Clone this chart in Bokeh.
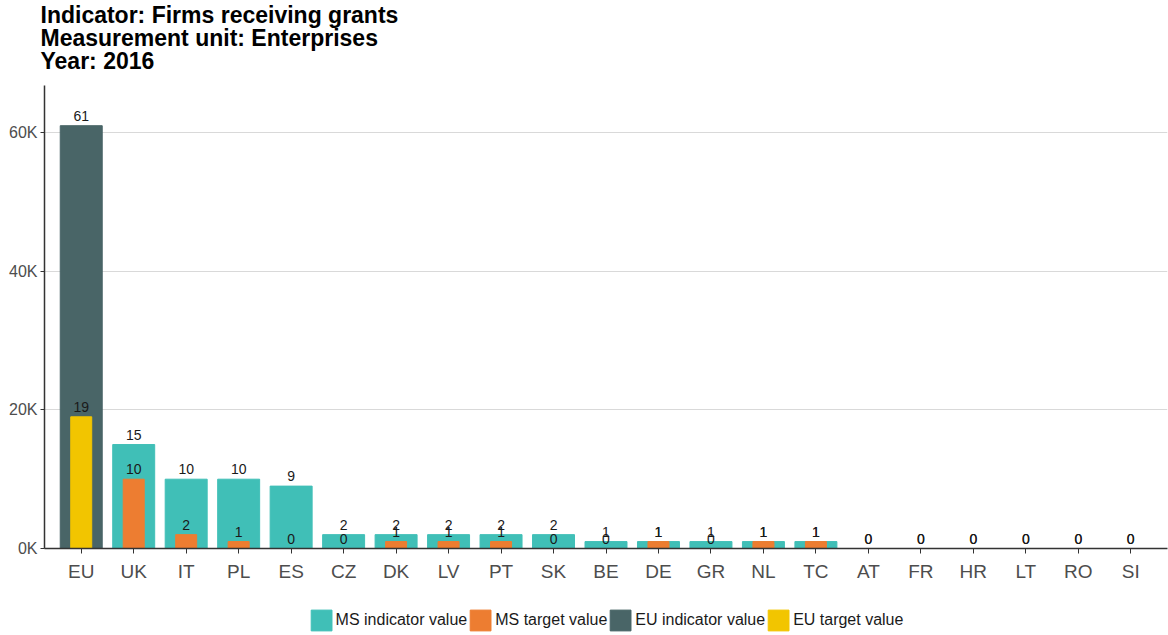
from bokeh.plotting import figure
from bokeh.layouts import column
from bokeh.models import (ColumnDataSource, FactorRange, Range1d, FixedTicker,
                          Legend, LegendItem, Title)
from bokeh.core.properties import value
from bokeh.embed import file_html
from bokeh.resources import INLINE

# ---- data (values in thousands of enterprises) ----
countries = ["EU", "UK", "IT", "PL", "ES", "CZ", "DK", "LV", "PT", "SK", "BE",
             "DE", "GR", "NL", "TC", "AT", "FR", "HR", "LT", "RO", "SI"]
indicator = [61, 15, 10, 10, 9, 2, 2, 2, 2, 2, 1, 1, 1, 1, 1, 0, 0, 0, 0, 0, 0]
target = [19, 10, 2, 1, 0, 0, 1, 1, 1, 0, 0, 1, 0, 1, 1, 0, 0, 0, 0, 0, 0]
y_ticks = [0, 20, 40, 60]
y_tick_labels = ["0K", "20K", "40K", "60K"]
title_lines = ["Indicator: Firms receiving grants",
               "Measurement unit: Enterprises",
               "Year: 2016"]
legend_labels = ["MS indicator value", "MS target value",
                 "EU indicator value", "EU target value"]

C_MS_IND = "#40BFB7"
C_MS_TGT = "#ED7D31"
C_EU_IND = "#496567"
C_EU_TGT = "#F2C500"
legend_colors = [C_MS_IND, C_MS_TGT, C_EU_IND, C_EU_TGT]

FONT = "Liberation Sans"
FRAME_H = 463

eu = [c == "EU" for c in countries]
ms_src = ColumnDataSource(dict(
    x=[c for c, e in zip(countries, eu) if not e],
    ind=[v for v, e in zip(indicator, eu) if not e],
    tgt=[v for v, e in zip(target, eu) if not e]))
eu_src = ColumnDataSource(dict(
    x=[c for c, e in zip(countries, eu) if e],
    ind=[v for v, e in zip(indicator, eu) if e],
    tgt=[v for v, e in zip(target, eu) if e]))
lab_src = ColumnDataSource(dict(
    x=countries, ind=indicator, tgt=target,
    ind_t=[str(v) for v in indicator], tgt_t=[str(v) for v in target]))

p = figure(frame_width=1123, frame_height=FRAME_H, output_backend="svg",
           toolbar_location=None,
           x_range=FactorRange(factors=countries, range_padding=0.2,
                               range_padding_units="absolute"),
           y_range=Range1d(0, 66.8),
           min_border_left=44, min_border_right=1, min_border_top=85,
           min_border_bottom=47)
p.title = None
p.outline_line_color = None

p.vbar(x="x", top="ind", width=0.8, source=ms_src,
       fill_color=C_MS_IND, line_color=C_MS_IND)
p.vbar(x="x", top="ind", width=0.8, source=eu_src,
       fill_color=C_EU_IND, line_color=C_EU_IND)
p.vbar(x="x", top="tgt", width=0.4, source=ms_src,
       fill_color=C_MS_TGT, line_color=C_MS_TGT)
p.vbar(x="x", top="tgt", width=0.4, source=eu_src,
       fill_color=C_EU_TGT, line_color=C_EU_TGT)

for col, txt in (("ind", "ind_t"), ("tgt", "tgt_t")):
    p.text(x="x", y=col, text=txt, source=lab_src, text_align="center",
           text_baseline="alphabetic", y_offset=-10,
           text_font=value(FONT), text_font_size="14px", text_color="#1a1a1a")

# axes
p.xaxis.major_label_text_font = FONT
p.xaxis.major_label_text_font_size = "19px"
p.xaxis.major_label_text_color = "#4D4D4D"
p.xaxis.axis_line_color = "#333333"
p.xaxis.axis_line_width = 1.5
p.xaxis.major_tick_line_color = "#333333"
p.xaxis.major_tick_in = 0
p.xaxis.major_tick_out = 5
p.xaxis.major_label_standoff = 7

p.yaxis.ticker = FixedTicker(ticks=y_ticks)
p.yaxis.major_label_overrides = dict(zip(y_ticks, y_tick_labels))
p.yaxis.major_label_text_font = FONT
p.yaxis.major_label_text_font_size = "16px"
p.yaxis.major_label_text_color = "#4D4D4D"
p.yaxis.axis_line_color = "#333333"
p.yaxis.axis_line_width = 1.5
p.yaxis.major_tick_line_color = "#333333"
p.yaxis.major_tick_in = 0
p.yaxis.major_tick_out = 4
p.yaxis.minor_tick_line_color = None
p.yaxis.major_label_standoff = 3

p.xgrid.grid_line_color = None
p.ygrid.grid_line_color = "#D9D9D9"
p.ygrid.grid_line_width = 1

# spacer between frame and title block, then title lines (innermost first)
p.add_layout(Title(text=" ", text_font_size="11px", standoff=0), "above")
for t in reversed(title_lines):
    p.add_layout(Title(text=t, align="left", offset=-4, text_font=FONT,
                       text_font_size="23px", text_font_style="bold",
                       text_line_height=1.0, text_color="#000000",
                       standoff=-5), "above")

# legend strip below the chart (proxy glyphs lie outside its visible range)
pl = figure(width=1168, height=40, output_backend="svg", toolbar_location=None,
            x_range=Range1d(0, 1), y_range=Range1d(0, 1),
            min_border_left=44, min_border_right=1, min_border_top=0,
            min_border_bottom=0)
pl.axis.visible = False
pl.grid.grid_line_color = None
pl.outline_line_color = None
items = []
for lab, colr in zip(legend_labels, legend_colors):
    r = pl.vbar(x=[-5], top=[-5], bottom=[-6], width=0.1,
                fill_color=colr, line_color=colr)
    items.append(LegendItem(label=lab, renderers=[r]))
legend = Legend(items=items, orientation="horizontal",
                location="bottom_center", glyph_width=26, glyph_height=26,
                label_standoff=2, spacing=0, padding=0, margin=2,
                label_text_font=FONT, label_text_font_size="16px",
                label_text_color="#1a1a1a", border_line_color=None,
                background_fill_alpha=0)
pl.add_layout(legend)

layout = column(p, pl, spacing=0)
open("out.html", "w").write(file_html(layout, INLINE))
